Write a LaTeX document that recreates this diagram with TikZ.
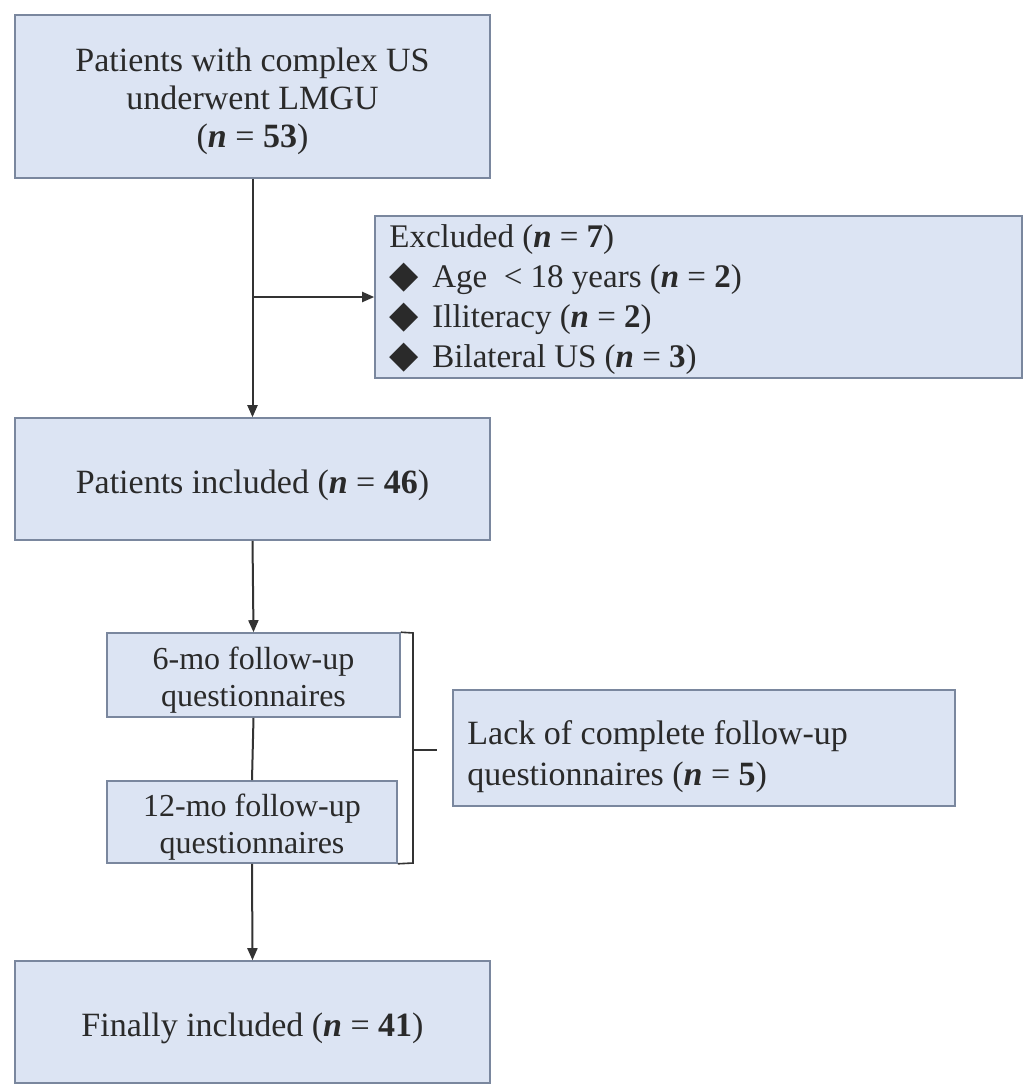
\documentclass[tikz,border=0pt]{standalone}
\usepackage{fontspec}
\setmainfont{Liberation Serif}
\newfontfamily\symfont{DejaVu Sans}
\usetikzlibrary{arrows.meta,calc}
\definecolor{boxfill}{HTML}{DCE4F3}
\definecolor{boxline}{HTML}{7A879E}
\definecolor{txt}{HTML}{2A2A2A}
\newcommand{\nn}[1]{(\textbf{\textit{n}} = \textbf{#1})}
\newcommand{\dia}{\makebox[43pt][l]{\raisebox{0pt}{\symfont\fontsize{38}{38}\selectfont ◆}}}
\begin{document}
\begin{tikzpicture}[x=1pt,y=-1pt,
  box/.style={draw=boxline,fill=boxfill,line width=1.6pt,inner sep=0pt},
  lbl/.style={inner sep=0pt,text=txt,font=\fontsize{34}{38}\selectfont,align=center},
  small/.style={font=\fontsize{32}{37}\selectfont},
  conn/.style={line width=2pt,draw=black!80},
  arr/.style={conn,-{Triangle[length=12pt,width=10pt]}}]
\useasboundingbox (0,0) rectangle (1024,1084);
\fill[white] (0,0) rectangle (1024,1084);
% boxes
\node[box,minimum width=475pt,minimum height=163pt] (b1) at (252.5,96.5) {};
\node[box,minimum width=647pt,minimum height=162pt] (ex) at (698.5,297) {};
\node[box,minimum width=475pt,minimum height=122pt] (b2) at (252.5,479) {};
\node[box,minimum width=293pt,minimum height=84pt] (b6) at (253.5,675) {};
\node[box,minimum width=290pt,minimum height=82pt] (b12) at (252,822) {};
\node[box,minimum width=502pt,minimum height=116pt] (lk) at (704,748) {};
\node[box,minimum width=475pt,minimum height=122pt] (b3) at (252.5,1022) {};
% texts
\node[lbl] (t1) at ([yshift=-5pt]b1.center)
  {Patients with complex US\\underwent LMGU\\\nn{53}};
\node[lbl,anchor=west,align=left,font=\fontsize{33}{40}\selectfont] (tex)
  at ([xshift=15pt,yshift=-3pt]ex.west)
  {Excluded \nn{7}\\
   \dia Age~ < 18 years \nn{2}\\
   \dia Illiteracy \nn{2}\\
   \dia Bilateral US \nn{3}};
\node[lbl] (t2) at ([yshift=-6pt]b2.center) {Patients included \nn{46}};
\node[lbl,small] (t6) at ([yshift=-5pt]b6.center) {6-mo follow-up\\questionnaires};
\node[lbl,small] (t12) at ([yshift=-5pt]b12.center) {12-mo follow-up\\questionnaires};
\node[lbl,anchor=west,align=left,font=\fontsize{34}{41}\selectfont] (tlk)
  at ([xshift=15pt,yshift=-9pt]lk.west)
  {Lack of complete follow-up\\questionnaires \nn{5}};
\node[lbl] (t3) at ([yshift=-6pt]b3.center) {Finally included \nn{41}};
% connectors
\coordinate (sp) at (b1.south |- ex.west);
\draw[arr] (b1.south) -- (b2.north);
\draw[arr] (sp) -- (ex.west);
\draw[arr] (b2.south) -- (b6.north);
\draw[conn] (b6.south) -- (b12.north);
\draw[arr] (b12.south) -- (b3.north);
% bracket
\coordinate (bt) at (413,633);
\coordinate (bb) at (413,863);
\coordinate (bm) at (413,750);
\coordinate (bk) at (437,750);
\draw[conn,line width=1.6pt] (b6.north east) -- (bt) -- (bb) -- (b12.south east);
\draw[conn,line width=1.6pt] (bm) -- (bk);
\end{tikzpicture}
\end{document}
